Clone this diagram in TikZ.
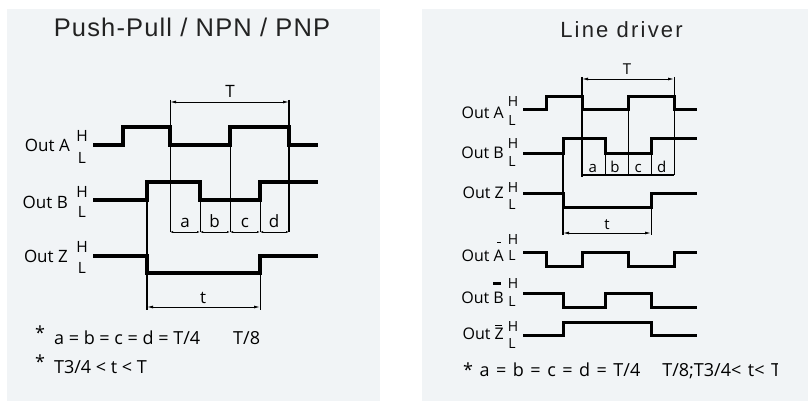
\documentclass[tikz,border=0pt]{standalone}
\usepackage{fontspec}
\setmainfont{Open Sans}
\newfontfamily\titlefont[LetterSpace=4.5]{Liberation Sans}
\newfontfamily\titlefontwide[LetterSpace=10]{Liberation Sans}
\usepackage{tikz}
\usetikzlibrary{arrows.meta, positioning}
\definecolor{panelgrey}{RGB}{241,244,246}
\definecolor{titlegrey}{RGB}{34,34,34}
\newcommand\ovbar[4]{\makebox[0pt][l]{\hspace{#1}\rule[#2]{#3}{#4}}}

\begin{document}
\begin{tikzpicture}[x=1pt, y=-1pt,
	panel/.style={fill=panelgrey, draw=none},
	wave/.style={line width=3.4pt},
	thinwave/.style={line width=3pt},
	guide/.style={line width=0.9pt},
	heavy/.style={line width=2.6pt},
	dim/.style={line width=0.9pt, {Latex[length=6pt,width=3pt]}-{Latex[length=6pt,width=3pt]}},
	chain/.style={line width=0.8pt, {Latex[length=3pt,width=2pt]}-{Latex[length=3pt,width=2pt]}},
	outlbl/.style={inner sep=0pt, anchor=east, font=\fontsize{17}{17}\selectfont},
	outlbls/.style={inner sep=0pt, anchor=east, font=\fontsize{16}{16}\selectfont},
	lvl/.style={inner sep=0pt, font=\fontsize{15.5}{16}\selectfont},
	lvls/.style={inner sep=0pt, font=\fontsize{14}{14}\selectfont},
	seg/.style={inner sep=0pt, anchor=base, font=\fontsize{17}{17}\selectfont},
	segs/.style={inner sep=0pt, anchor=base, font=\fontsize{15}{15}\selectfont},
	note/.style={inner sep=0pt, anchor=base west, font=\fontsize{18}{18}\selectfont},
	heading/.style={inner sep=0pt, anchor=base, text=titlegrey}]
	\useasboundingbox (0,0) rectangle (808,401);
	\fill[white] (0,0) rectangle (808,401);
	\fill[panel] (7,9) rectangle (380,401);
	\fill[panel] (422,9) rectangle (808,401);
	
	\node[heading, font=\titlefont\fontsize{25.5}{26}\selectfont] (ppTitle) at (192,36.7) {Push-Pull / NPN / PNP};
	\node[heading, font=\titlefontwide\fontsize{22}{22}\selectfont] (ldTitle) at (621.5,37.3) {Line driver};
	
	\node[outlbl] (ppA) at (70,145) {Out A};
	\node[lvl] (ppAH) at (82,136) {H};
	\node[lvl] (ppAL) at (82,157.5) {L};
	\node[outlbl] (ppB) at (68,202) {Out B};
	\node[lvl] (ppBH) at (82,191.7) {H};
	\node[lvl] (ppBL) at (82,212) {L};
	\node[outlbl] (ppZ) at (68,256) {Out Z};
	\node[lvl] (ppZH) at (82,246.5) {H};
	\node[lvl] (ppZL) at (82,267.5) {L};
	
	\draw[wave] (93,145) -| (123,127) -| (170,145) -| (230,127) -| (289,145) -- (318,145);
	\draw[wave] (93,200) -| (147,182) -| (200,200) -| (260,182) -- (318,182);
	\draw[wave] (93,256) -| (147,273) -| (260,256) -- (318,256);
	
	\draw[guide] (170,100) -- (170,232);
	\draw[guide] (200,200) -- (200,232);
	\draw[guide] (230,127) -- (230,232);
	\draw[guide] (260,200) -- (260,232);
	\draw[heavy] (289,100) -- (289,232);
	\draw[heavy] (147,182) -- (147,310);
	\draw[guide] (260,256) -- (260,310);
	
	\coordinate (ppT1) at (170,102);
	\coordinate (ppT2) at (289,102);
	\draw[dim] (ppT1) -- (ppT2);
	\node[seg] (ppTlbl) at (230,98) {T};
	\coordinate (ppt1) at (147,307);
	\coordinate (ppt2) at (260,307);
	\draw[dim] (ppt1) -- (ppt2);
	\node[seg] (pptlbl) at (203,303.3) {t};
	
	\coordinate (ppC0) at (170,232);
	\coordinate (ppC1) at (200,232);
	\coordinate (ppC2) at (230,232);
	\coordinate (ppC3) at (260,232);
	\coordinate (ppC4) at (289,232);
	\draw[chain] (ppC0) -- (ppC1);
	\draw[chain] (ppC1) -- (ppC2);
	\draw[chain] (ppC2) -- (ppC3);
	\draw[chain] (ppC3) -- (ppC4);
	\node[seg] (ppa) at (185,227) {a};
	\node[seg] (ppb) at (214.5,227) {b};
	\node[seg] (ppc) at (245,227) {c};
	\node[seg] (ppd) at (274,227) {d};
	
	\node[note] (ppNote1) at (35,344) {\raisebox{5pt}{*}\hspace{9pt}a = b = c = d = T/4\hspace{33pt}T/8};
	\node[note] (ppNote2) at (35,373.3) {\raisebox{5pt}{*}\hspace{9pt}T3/4 < t < T};
	
	\node[outlbls] (ldA) at (504,112.5) {Out A};
	\node[lvls] (ldAH) at (513,102) {H};
	\node[lvls] (ldAL) at (512,120.5) {L};
	\node[outlbls] (ldB) at (504,152.5) {Out B};
	\node[lvls] (ldBH) at (513,143.5) {H};
	\node[lvls] (ldBL) at (512,161.5) {L};
	\node[outlbls] (ldZ) at (504,193) {Out Z};
	\node[lvls] (ldZH) at (513,188) {H};
	\node[lvls] (ldZL) at (512,205) {L};
	\node[outlbls] (ldAn) at (504,251.7) {Out \ovbar{3.5pt}{18pt}{4pt}{1pt}A};
	\node[lvls] (ldAnH) at (513,240) {H};
	\node[lvls] (ldAnL) at (512,255.5) {L};
	\node[outlbls] (ldBn) at (504,293) {Out \ovbar{0pt}{18.5pt}{7.5pt}{2.4pt}B};
	\node[lvls] (ldBnH) at (513,284) {H};
	\node[lvls] (ldBnL) at (512,302) {L};
	\node[outlbls] (ldZn) at (504,332.5) {Out \ovbar{0.5pt}{14pt}{6.5pt}{1pt}Z};
	\node[lvls] (ldZnH) at (513,327) {H};
	\node[lvls] (ldZnL) at (512,343.7) {L};
	
	\draw[thinwave] (523,110) -| (546,96.5) -| (582,110) -| (628,96.5) -| (674,110) -- (697,110);
	\draw[thinwave] (523,153) -| (563,138.5) -| (605,153) -| (651,138.5) -- (697,138.5);
	\draw[thinwave] (523,193) -| (563,207) -| (651,193) -- (697,193);
	\draw[thinwave] (523,252) -| (546,266) -| (582,252) -| (628,266) -| (674,252) -- (697,252);
	\draw[thinwave] (523,293) -| (563,307) -| (605,293) -| (651,307) -- (697,307);
	\draw[thinwave] (523,335) -| (563,322) -| (651,335) -- (697,335);
	
	\draw[heavy] (582,77) -- (582,177);
	\draw[guide] (605,153) -- (605,175);
	\draw[guide] (628,96.5) -- (628,175);
	\draw[guide] (651,153) -- (651,175);
	\draw[guide] (674,77) -- (674,175);
	\draw[heavy] (563,138.5) -- (563,235);
	\draw[guide] (651,193) -- (651,235);
	
	\coordinate (ldT1) at (582,79);
	\coordinate (ldT2) at (674,79);
	\draw[dim] (ldT1) -- (ldT2);
	\node[segs] (ldTlbl) at (627,75) {T};
	\coordinate (ldC0) at (582,175);
	\coordinate (ldC4) at (674,175);
	\draw[line width=1.8pt] (ldC0) -- (ldC4);
	\node[segs] (lda) at (592.7,172) {a};
	\node[segs] (ldb) at (615,172) {b};
	\node[segs] (ldc) at (638.3,172) {c};
	\node[segs] (ldd) at (661.7,172) {d};
	\coordinate (ldt1) at (563,233);
	\coordinate (ldt2) at (651,233);
	\draw[dim] (ldt1) -- (ldt2);
	\node[segs] (ldtlbl) at (607,229) {t};
	
	\begin{scope}
		\clip (422,340) rectangle (777.5,401);
		\node[note, font=\fontsize{18}{18}\selectfont] (ldNote) at (463,376) {\spaceskip=6.5pt\relax * a = b = c = d = T/4\hspace{22pt}T/8;T3/4< t< T};
	\end{scope}
\end{tikzpicture}
\end{document}
